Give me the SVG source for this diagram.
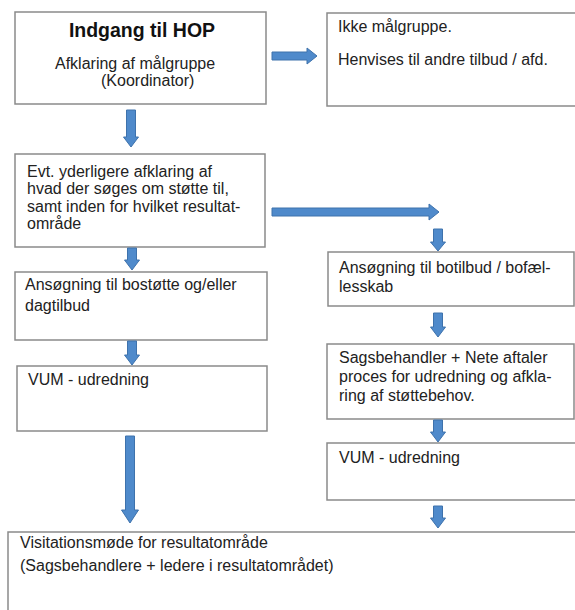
<svg xmlns="http://www.w3.org/2000/svg" width="575" height="610" viewBox="0 0 575 610">
<style>
.box{fill:#ffffff;stroke:#8a8a8a;stroke-width:1.5}
.t{font-family:"Liberation Sans",Arial,sans-serif;font-size:16px;fill:#222}
.title{font-family:"Liberation Sans",Arial,sans-serif;font-size:19.5px;font-weight:bold;fill:#111}
.arr{fill:#4F8ACB;stroke:#3E72AC;stroke-width:1}
</style>
<rect width="575" height="610" fill="#ffffff"/>
<g id="node-indgang">
<rect class="box" x="15" y="12" width="251" height="92"/>
<text class="title" x="142" y="37" text-anchor="middle">Indgang til HOP</text>
<text class="t" x="55" y="69">Afklaring af målgruppe</text>
<text class="t" x="101" y="86">(Koordinator)</text>
</g>
<g id="node-ikke">
<rect class="box" x="327" y="13" width="260" height="93"/>
<text class="t" x="338" y="32">Ikke målgruppe.</text>
<text class="t" x="338" y="65">Henvises til andre tilbud / afd.</text>
</g>
<g id="node-afklaring">
<rect class="box" x="15" y="154" width="250" height="93"/>
<text class="t" x="27" y="177">Evt. yderligere afklaring af</text>
<text class="t" x="27" y="194">hvad der søges om støtte til,</text>
<text class="t" x="27" y="212">samt inden for hvilket resultat-</text>
<text class="t" x="27" y="229">område</text>
</g>
<g id="node-ansogning-bostotte">
<rect class="box" x="15" y="272" width="252" height="68"/>
<text class="t" x="25" y="290">Ansøgning til bostøtte og/eller</text>
<text class="t" x="25" y="311">dagtilbud</text>
</g>
<g id="node-vum-left">
<rect class="box" x="17" y="366" width="250" height="65"/>
<text class="t" x="28" y="385">VUM - udredning</text>
</g>
<g id="node-ansogning-botilbud">
<rect class="box" x="328" y="252" width="246" height="54"/>
<text class="t" x="339" y="273">Ansøgning til botilbud / bofæl-</text>
<text class="t" x="339" y="292">lesskab</text>
</g>
<g id="node-sagsbehandler">
<rect class="box" x="327" y="344" width="247" height="75"/>
<text class="t" x="339" y="363">Sagsbehandler + Nete aftaler</text>
<text class="t" x="339" y="382">proces for udredning og afkla-</text>
<text class="t" x="339" y="401">ring af støttebehov.</text>
</g>
<g id="node-vum-right">
<rect class="box" x="327" y="443" width="260" height="57"/>
<text class="t" x="339" y="463">VUM - udredning</text>
</g>
<g id="node-visitation">
<rect class="box" x="8" y="532" width="580" height="90"/>
<text class="t" x="20" y="548">Visitationsmøde for resultatområde</text>
<text class="t" x="20" y="571">(Sagsbehandlere + ledere i resultatområdet)</text>
</g>
<g id="connectors">
<path class="arr" d="M272 52 H307 V48 L317 56 L307 64 V60 H272 Z"/>
<path class="arr" d="M272 208 H429 V204 L439 212 L429 220 V216 H272 Z"/>
<path class="arr" d="M126.5 110 H135.5 V137 H138.5 L131 147 L123.5 137 H126.5 Z"/>
<path class="arr" d="M127.5 248 H136.5 V260 H139.5 L132 270 L124.5 260 H127.5 Z"/>
<path class="arr" d="M127.5 341 H136.5 V355 H139.5 L132 365 L124.5 355 H127.5 Z"/>
<path class="arr" d="M125.5 436 H134.5 V510 H138.5 L130 523 L121.5 510 H125.5 Z"/>
<path class="arr" d="M433.5 229 H442.5 V242 H445.5 L438 251 L430.5 242 H433.5 Z"/>
<path class="arr" d="M433.5 313 H442.5 V327 H445.5 L438 337 L430.5 327 H433.5 Z"/>
<path class="arr" d="M433.5 420 H442.5 V432 H445.5 L438 442 L430.5 432 H433.5 Z"/>
<path class="arr" d="M433.5 506 H442.5 V518 H445.5 L438 528 L430.5 518 H433.5 Z"/>
</g>
</svg>
